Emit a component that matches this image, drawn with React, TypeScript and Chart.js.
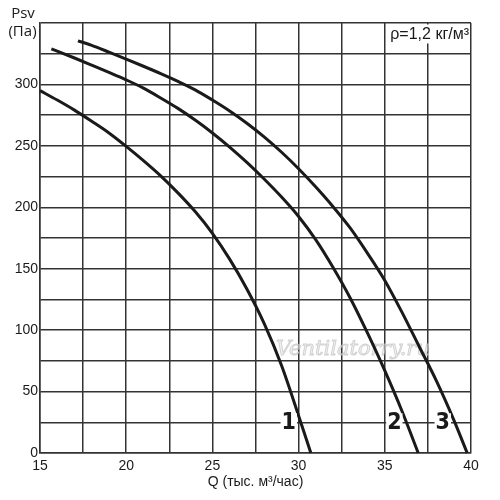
import { useEffect, useRef } from 'react'
import { Chart, registerables } from 'chart.js'

Chart.register(...registerables)

// Q, thousand m3/h  ->  Psv, Pa
const curve1Q = [15, 16, 17, 18, 19, 20, 21, 22, 23, 24, 25, 26, 27, 28, 29, 30, 30.71]
const curve1P = [295, 287.3, 279.1, 270, 260.5, 249.6, 238, 225.6, 211.7, 196.5, 178.8, 157.8, 133.5, 105.5, 71.6, 30.4, 0]

const curve2Q = [15.66, 17, 18, 19, 20, 21, 22, 23, 24, 25, 26, 27, 28, 29, 30, 31, 32, 33, 34, 35, 36, 36.94]
const curve2P = [329, 321.5, 315.7, 309.8, 303.7, 297, 289, 280.5, 271, 260.5, 249, 236.5, 223, 208.5, 192.5, 173.5, 151, 126, 97.5, 67, 34, 0]

const curve3Q = [17.2, 18, 19, 20, 21, 22, 23, 24, 25, 26, 27, 28, 29, 30, 31, 32, 33, 34, 35, 36, 37, 38, 39, 39.78]
const curve3P = [335.5, 331.8, 326.3, 320.6, 314.8, 308.8, 302.5, 295.6, 287.3, 278.4, 268.4, 257.3, 245, 231.4, 216.5, 200.5, 183, 162.5, 140.5, 114.5, 86.5, 58.5, 27, 0]

const curveNames = ['1', '2', '3']
const curveQ = [curve1Q, curve2Q, curve3Q]
const curveP = [curve1P, curve2P, curve3P]

const xMin = 15
const xMax = 40
const yMin = 0
const yMax = 350

const yTitle = ['Psv', '(Па)']
const xTitle = 'Q (тыс. м³/час)'
const density = 'ρ=1,2 кг/м³'
const watermark = 'Ventilatorry.ru'
const labelLevel = 25

const GRID = '#333'
const INK = '#1a1a1a'

// value of a curve at a given pressure, by linear lookup between read points
function qAt(qs: number[], ps: number[], p: number) {
  for (let i = 1; i < ps.length; i++) {
    if (ps[i] <= p) {
      const t = (ps[i - 1] - p) / (ps[i - 1] - ps[i])
      return qs[i - 1] + t * (qs[i] - qs[i - 1])
    }
  }
  return qs[qs.length - 1]
}

const overlay = {
  id: 'overlay',
  beforeDatasetsDraw(chart: Chart) {
    const { ctx, scales } = chart
    const x = scales.x
    const y = scales.y
    ctx.save()
    ctx.font = 'italic 21px "DejaVu Serif"'
    ctx.textAlign = 'center'
    ctx.textBaseline = 'middle'
    ctx.fillStyle = 'rgba(230,230,230,0.5)'
    ctx.strokeStyle = 'rgba(195,195,195,0.75)'
    ctx.lineWidth = 0.9
    const wx = x.getPixelForValue(33.15)
    const wy = y.getPixelForValue(84)
    ctx.fillText(watermark, wx, wy)
    ctx.strokeText(watermark, wx, wy)
    ctx.restore()
  },
  afterDatasetsDraw(chart: Chart) {
    const { ctx, chartArea, scales } = chart
    const x = scales.x
    const y = scales.y
    ctx.save()

    // density note, top right
    ctx.font = '16px "Liberation Sans"'
    const w = ctx.measureText(density).width
    ctx.fillStyle = '#fff'
    ctx.fillRect(chartArea.right - w - 3, chartArea.top + 1.5, w + 1.5, 19)
    ctx.fillStyle = INK
    ctx.textAlign = 'right'
    ctx.textBaseline = 'top'
    ctx.fillText(density, chartArea.right - 2, chartArea.top + 4)

    // y title
    ctx.font = '15px "Open Sans"'
    ctx.textAlign = 'center'
    ctx.textBaseline = 'middle'
    ctx.fillText(yTitle[0], 23, 14)
    ctx.fillText(yTitle[1], 22.5, 32)

    // curve numbers, left of each curve at the 25 Pa line
    ctx.font = 'bold 23px "DejaVu Sans Condensed", "Liberation Sans"'
    curveNames.forEach((name, i) => {
      const px = x.getPixelForValue(qAt(curveQ[i], curveP[i], labelLevel)) - 12
      const py = y.getPixelForValue(labelLevel)
      const tw = ctx.measureText(name).width
      ctx.fillStyle = '#fff'
      ctx.fillRect(px - tw / 2 - 1, py - 9, tw + 2, 18)
      ctx.fillStyle = INK
      ctx.fillText(name, px, py + 1)
    })
    ctx.restore()
  },
}

export default function App() {
  const canvasRef = useRef<HTMLCanvasElement>(null)

  useEffect(() => {
    if (!canvasRef.current) return
    const chart = new Chart(canvasRef.current, {
      type: 'scatter',
      data: {
        datasets: curveNames.map((name, i) => ({
          label: name,
          data: curveQ[i].map((q, j) => ({ x: q, y: curveP[i][j] })),
          showLine: true,
          borderColor: INK,
          borderWidth: 3,
          pointRadius: 0,
          cubicInterpolationMode: 'monotone' as const,
          clip: 4,
        })),
      },
      options: {
        animation: false,
        responsive: true,
        maintainAspectRatio: false,
        events: [],
        layout: { padding: { top: 23, right: 29, left: 0, bottom: 9 } },
        plugins: {
          legend: { display: false },
          tooltip: { enabled: false },
        },
        scales: {
          x: {
            type: 'linear',
            min: xMin,
            max: xMax,
            afterFit: (s: any) => {
              s.height = 38
            },
            ticks: {
              stepSize: 2.5,
              autoSkip: false,
              maxRotation: 0,
              padding: 5,
              color: INK,
              font: { family: '"Liberation Sans"', size: 14 },
              callback: (v: number | string) => (Number(v) % 5 === 0 ? String(v) : ''),
            },
            grid: { color: GRID, lineWidth: 1.5, drawTicks: false },
            border: { color: GRID, width: 1.5 },
            title: {
              display: true,
              text: xTitle,
              color: INK,
              font: { family: '"Liberation Sans"', size: 14 },
              padding: { top: 0, bottom: 0 },
            },
          },
          y: {
            type: 'linear',
            min: yMin,
            max: yMax,
            afterFit: (s: any) => {
              s.width = 40
            },
            ticks: {
              stepSize: 25,
              autoSkip: false,
              padding: 2,
              color: INK,
              font: { family: '"Liberation Sans"', size: 14 },
              callback: (v: number | string) => {
                const n = Number(v)
                return n % 50 === 0 && n < yMax ? String(n) : ''
              },
            },
            grid: { color: GRID, lineWidth: 1.5, drawTicks: false },
            border: { color: GRID, width: 1.5 },
          },
        },
      },
      plugins: [overlay],
    })
    return () => chart.destroy()
  }, [])

  return (
    <div style={{ position: 'fixed', left: 0, top: 0, width: 500, height: 500, background: '#fff' }}>
      <canvas ref={canvasRef} />
    </div>
  )
}
